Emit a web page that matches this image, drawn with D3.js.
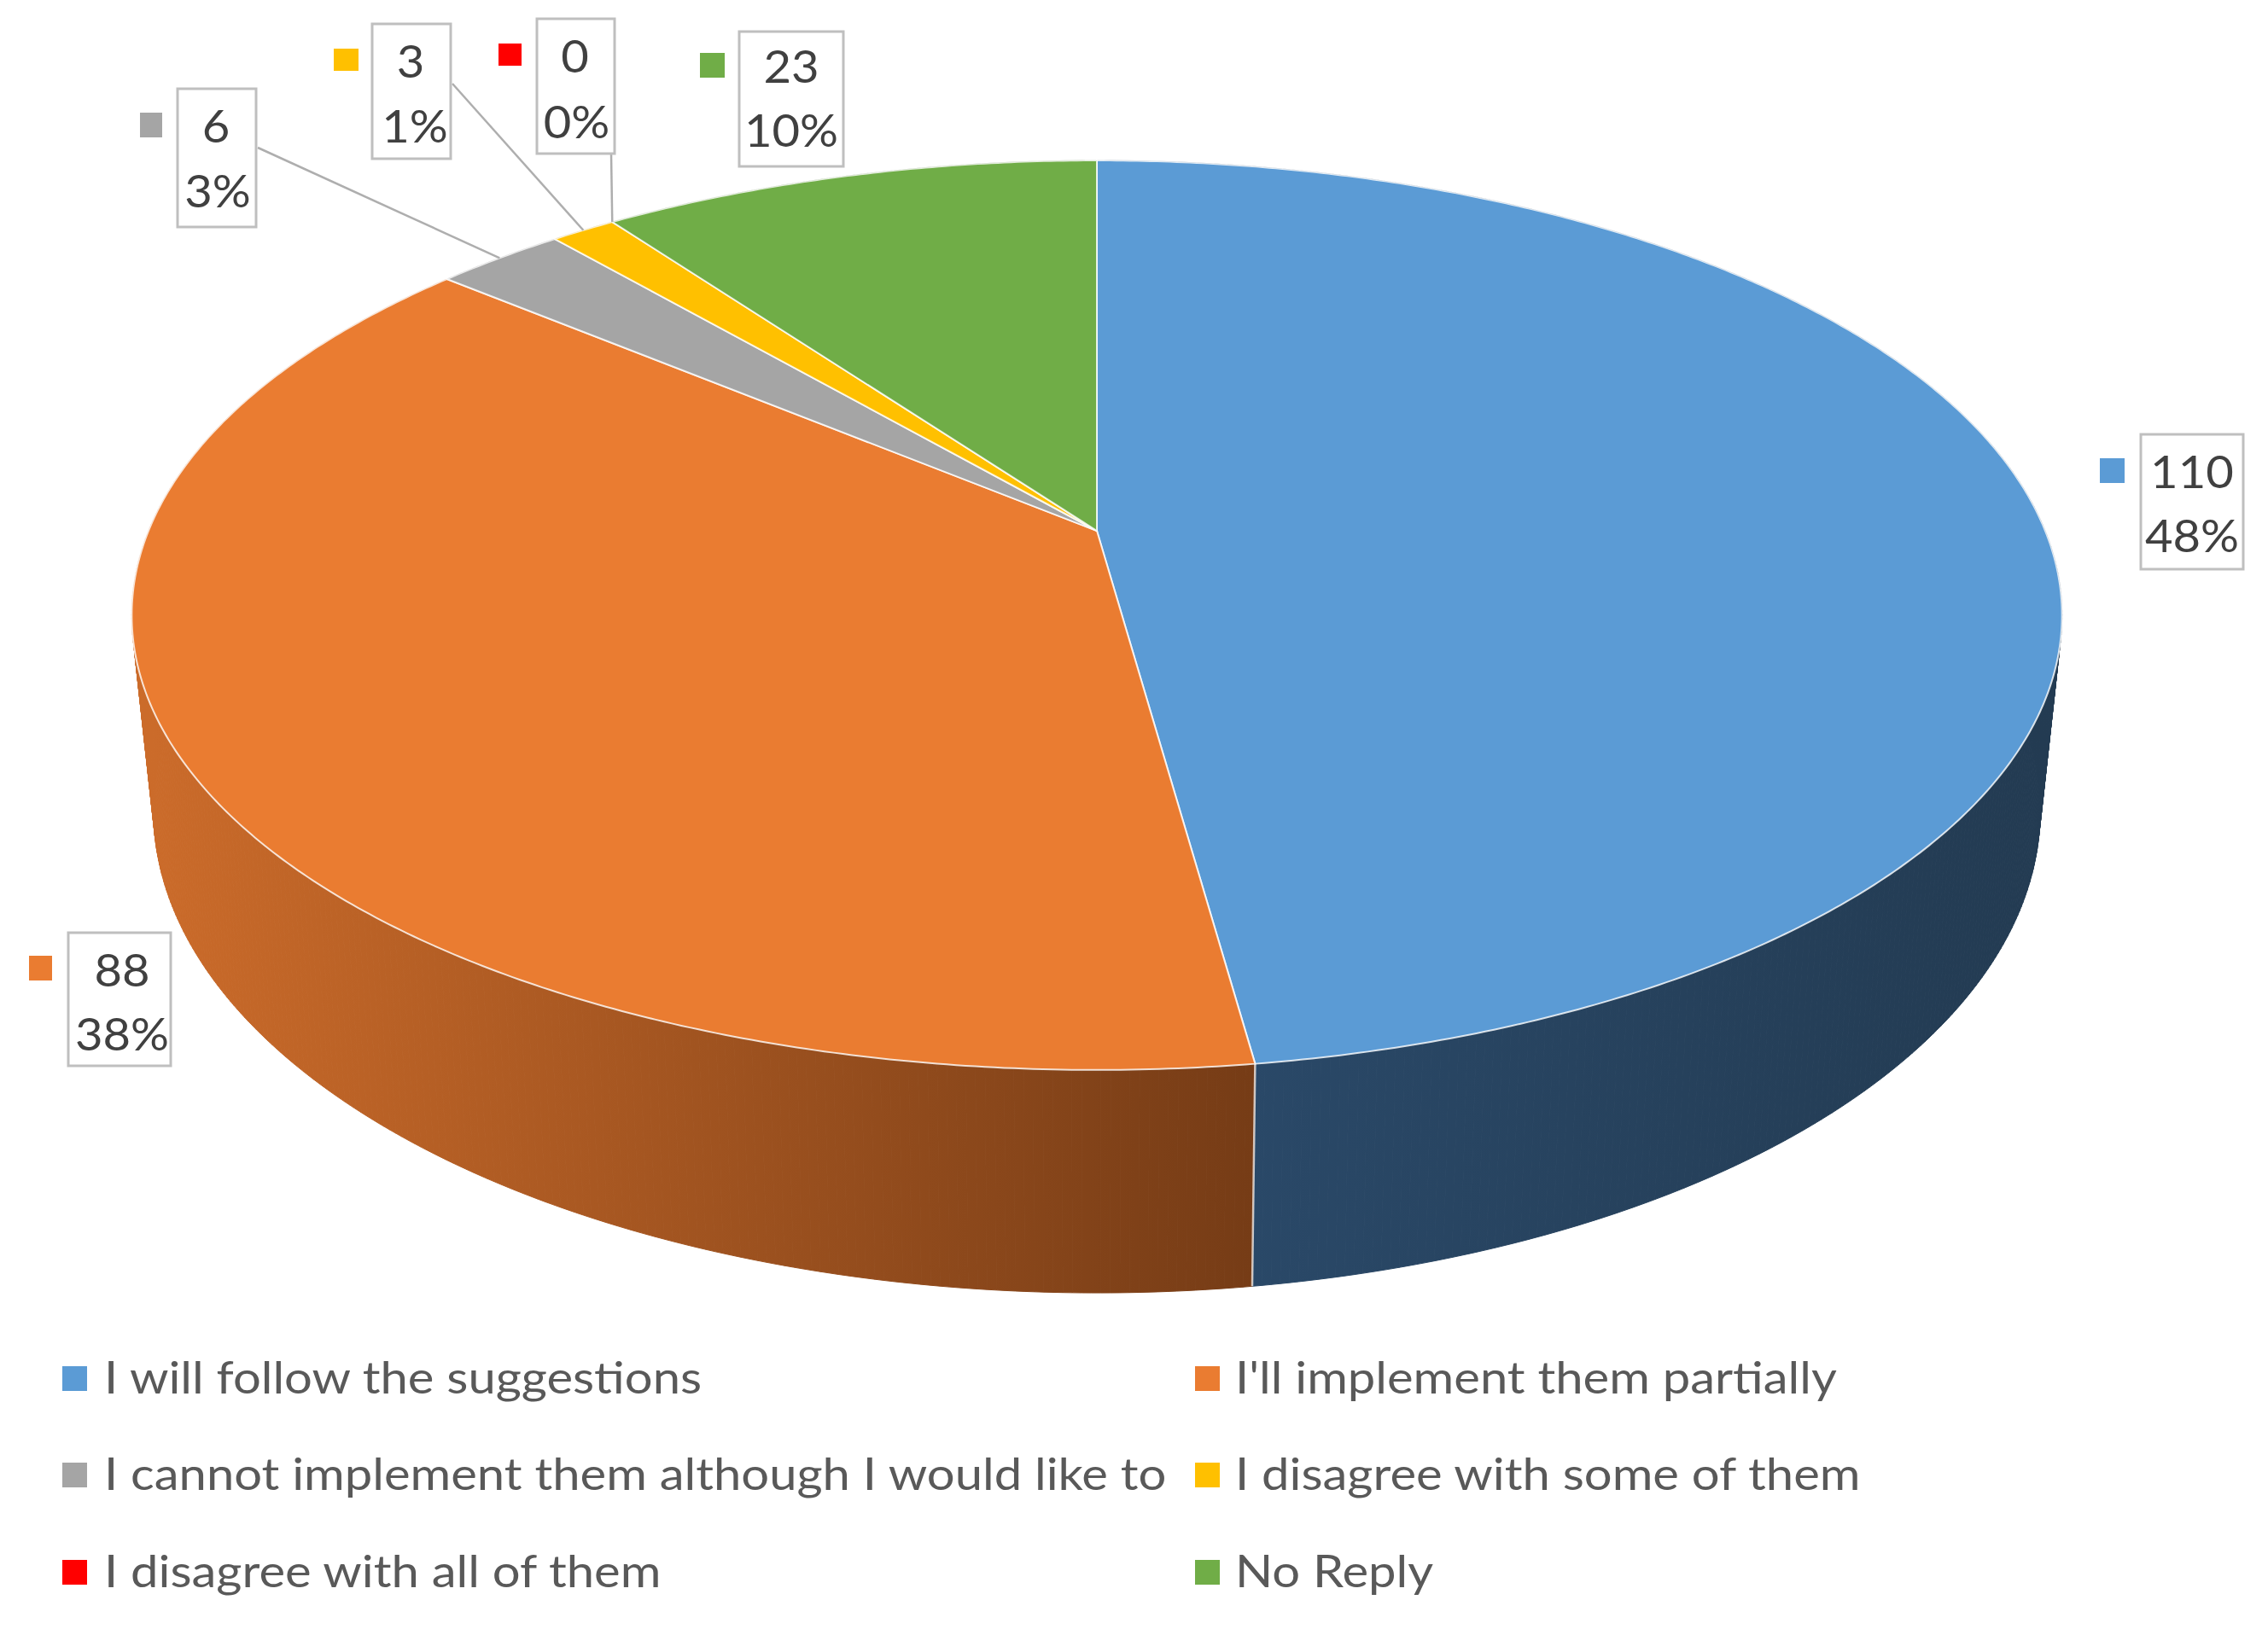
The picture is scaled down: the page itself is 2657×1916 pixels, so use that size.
<!DOCTYPE html>
<html><head><meta charset="utf-8">
<script src="https://cdn.jsdelivr.net/npm/d3@7"></script>
<style>html,body{margin:0;padding:0;background:#fff}svg{display:block}text{font-family:Lato,"Open Sans",sans-serif}</style>
</head><body><svg id="c"></svg>
<script>
const categories=["I will follow the suggestions","I'll implement them partially","I cannot implement them although I would like to","I disagree with some of them","I disagree with all of them","No Reply"];
const counts=[110,88,6,3,0,23];
const percentLabels=["48%","38%","3%","1%","0%","10%"];
const colors=["#5B9BD5","#EA7C31","#A5A5A5","#FFC000","#FF0000","#70AD47"];
const wallFrom=["#2B4B6C","#CB6B2A","#636363","#997300","#990000","#43682B"];
const wallTo=["#233B52","#763C16","#636363","#997300","#990000","#43682B"];
// label boxes [x,y,w,h], swatches [x,y,w,h], text baselines relative to the box top, text x nudges
const boxes=[[2508,509,120,158],[80,1093,120,156],[208,104,92,162],[436,28,92,158],[629,22,91,158],[866,37,122,158]];
const swatches=[[2460,537,29,29],[34,1120,27,29],[164,132,26,29],[391,57,29,26],[584,51,27,26],[820,62,29,29]];
const labelBase=[[63,138],[63,138],[63,139],[63,139],[63,140],[60,135]];
const labelNudge=[[0,0],[3,3],[-1,1],[-1,4],[-1,1],[0,0]];
const leaderStart=[null,null,[302,173],[530,98],[716,180],null];
const legendColX=[[73,122],[1400,1447]];
const legendRowY=[1601,1714,1828];

const W=2657,H=1916;
const svg=d3.select("#c").attr("width",W).attr("height",H);
// perspective mapping of the pie disc: top rim and bottom rim
const CX=1285;
const top_={A:622,P:399,Q:1111,C:-0.1857};
const bot_={A:842.6,P:384.6,Q:1085,C:-0.19};
function proj(theta,rad,plane){
  const u=rad*Math.sin(theta),v=-rad*Math.cos(theta),w=1+plane.C*v;
  return [CX+plane.Q*u/w,(plane.A+plane.P*v)/w];
}
const arcs=d3.pie().sort(null).startAngle(0).endAngle(2*Math.PI)(counts);
const line=d3.line();
const samples=a=>{const n=Math.max(2,Math.ceil((a.endAngle-a.startAngle)*120));return d3.range(n+1).map(i=>a.startAngle+(a.endAngle-a.startAngle)*i/n);};
const defs=svg.append("defs");
arcs.forEach((a,i)=>{
  const xs=samples(a).map(t=>proj(t,1,bot_)[0]);
  defs.append("linearGradient").attr("id","w"+i).attr("gradientUnits","userSpaceOnUse")
    .attr("x1",d3.min(xs)).attr("x2",d3.max(xs)).attr("y1",0).attr("y2",0)
    .selectAll("stop").data([wallFrom[i],wallTo[i]]).join("stop")
    .attr("offset",(d,k)=>k).attr("stop-color",d=>d);
});

const vis=arcs.map((a,i)=>({a,i})).filter(d=>d.a.endAngle>d.a.startAngle);
// outer wall: one small quad per sampled step so the fold at the silhouette fills solid
const wallQuads=vis.flatMap(d=>{
  const s=samples(d.a);
  return d3.pairs(s).map(([t0,t1])=>({i:d.i,t0,t1}));
});
svg.append("g").selectAll("path").data(wallQuads).join("path")
  .attr("fill",d=>`url(#w${d.i})`).attr("stroke",d=>`url(#w${d.i})`).attr("stroke-width",1)
  .attr("d",d=>line([proj(d.t0,1,top_),proj(d.t1,1,top_),proj(d.t1,1,bot_),proj(d.t0,1,bot_)])+"Z");
// seam between the two visible walls
const seam=arcs[0].endAngle;
svg.append("path").attr("d",line([proj(seam,1,top_),proj(seam,1,bot_)])).attr("stroke","#fff").attr("stroke-opacity",.7).attr("stroke-width",2.5).attr("fill","none");
// top faces
svg.append("g").selectAll("path").data(vis).join("path")
  .attr("fill",d=>colors[d.i]).attr("stroke","#fff").attr("stroke-opacity",.8).attr("stroke-width",2).attr("stroke-linejoin","round")
  .attr("d",d=>line([proj(0,0,top_),...samples(d.a).map(t=>proj(t,1,top_))])+"Z");

// leaders
svg.append("g").selectAll("path").data(arcs.map((a,i)=>({a,i})).filter(d=>leaderStart[d.i])).join("path")
  .attr("fill","none").attr("stroke","#aeaeae").attr("stroke-width",2.5)
  .attr("d",d=>line([leaderStart[d.i],proj((d.a.startAngle+d.a.endAngle)/2,1,top_)]));

// data labels
const stretched=(sel,xf,yf,sx)=>sel.attr("transform",i=>`translate(${xf(i)},${yf(i)}) scale(${sx},1)`);
const lab=svg.append("g").selectAll("g").data(counts.map((c,i)=>i)).join("g");
lab.append("rect").attr("x",i=>boxes[i][0]).attr("y",i=>boxes[i][1]).attr("width",i=>boxes[i][2]).attr("height",i=>boxes[i][3])
  .attr("fill","#fff").attr("stroke","#bfbfbf").attr("stroke-width",3);
lab.append("rect").attr("x",i=>swatches[i][0]).attr("y",i=>swatches[i][1]).attr("width",i=>swatches[i][2]).attr("height",i=>swatches[i][3]).attr("fill",i=>colors[i]);
stretched(lab.append("text"),i=>boxes[i][0]+boxes[i][2]/2+labelNudge[i][0],i=>boxes[i][1]+labelBase[i][0],1.06).attr("text-anchor","middle").attr("font-size",53).attr("fill","#404040").text(i=>counts[i]);
stretched(lab.append("text"),i=>boxes[i][0]+boxes[i][2]/2+labelNudge[i][1],i=>boxes[i][1]+labelBase[i][1],1.06).attr("text-anchor","middle").attr("font-size",53).attr("fill","#404040").text(i=>percentLabels[i]);

// legend
const leg=svg.append("g").selectAll("g").data(categories.map((c,i)=>i)).join("g");
leg.append("rect").attr("x",i=>legendColX[i%2][0]).attr("y",i=>legendRowY[i>>1]).attr("width",29).attr("height",29).attr("fill",i=>colors[i]);
stretched(leg.append("text"),i=>legendColX[i%2][1],i=>legendRowY[i>>1]+32,1.094).attr("font-size",53).attr("fill","#595959").text(i=>categories[i]);
</script></body></html>
